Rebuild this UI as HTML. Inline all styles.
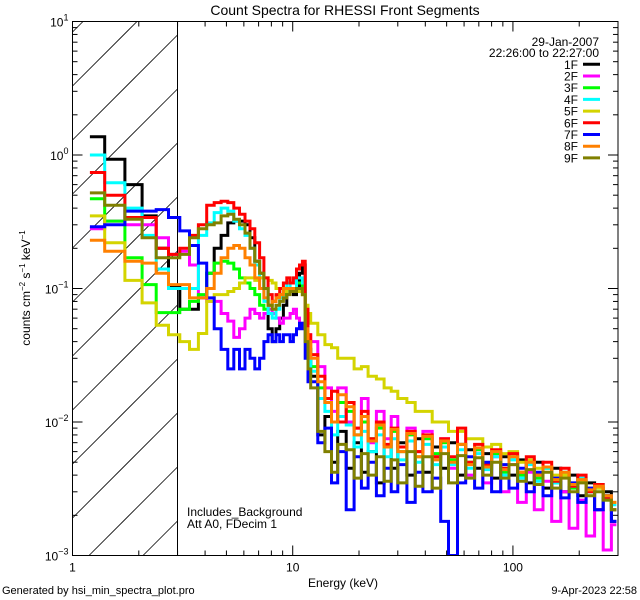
<!DOCTYPE html>
<html><head><meta charset="utf-8"><style>
html,body{margin:0;padding:0;background:#fff;width:640px;height:600px;overflow:hidden;}
svg{display:block;font-family:"Liberation Sans",sans-serif;}
</style></head><body>
<svg id="chart" width="640" height="600" viewBox="0 0 640 600" xmlns="http://www.w3.org/2000/svg">
<rect width="640" height="600" fill="#fff"/>
<text x="345" y="15" font-size="14" text-anchor="middle">Count Spectra for RHESSI Front Segments</text>
<defs><clipPath id="pclip"><rect x="72.5" y="21.5" width="545.5" height="534"/></clipPath></defs>
<g id="hatch"></g>
<line x1="177.5" y1="21.5" x2="177.5" y2="555.5" stroke="#000" stroke-width="1"/>
<g id="series" clip-path="url(#pclip)"></g>
<rect x="72.5" y="21.5" width="545.5" height="534" fill="none" stroke="#000" stroke-width="1"/>
<g id="axes"></g>
<text x="343" y="587" font-size="12" text-anchor="middle">Energy (keV)</text>
<text transform="translate(30,288) rotate(-90)" font-size="12" text-anchor="middle">counts cm<tspan font-size="8" dy="-5">−2</tspan><tspan dy="5"> s</tspan><tspan font-size="8" dy="-5">−1</tspan><tspan dy="5"> keV</tspan><tspan font-size="8" dy="-5">−1</tspan></text>
<text x="187" y="516" font-size="12">Includes_Background</text>
<text x="187" y="528" font-size="12">Att A0, FDecim 1</text>
<text x="599" y="46" font-size="12" text-anchor="end">29-Jan-2007</text>
<text x="599" y="57" font-size="12" text-anchor="end">22:26:00 to 22:27:00</text>
<g id="legend"></g>
<text x="2" y="594" font-size="11">Generated by hsi_min_spectra_plot.pro</text>
<text x="637" y="594" font-size="11" text-anchor="end">9-Apr-2023 22:58</text>
</svg>
<script>
const segmentNames=["1F","2F","3F","4F","5F","6F","7F","8F","9F"];
const segmentColors=["#000000","#ff00ff","#00ff00","#00ffff","#d4d400","#ff0000","#0000ff","#ff8000","#808000"];
const energyEdgesLow=[1.2,1.4,1.73,2.07,2.4,2.73,3.07,3.4,3.73,4.07,4.4,4.73,5.07,5.4,5.73,6.07,6.4,6.73,7.07,7.4,7.73,8.07,8.4,8.73,9.07,9.4,9.73,10.07,10.4,10.73,11.07,11.4,11.73,12.07];
const energyEdgesHigh=[13,14,15,16,17.5,19,20.5,22,24,26,28,30,33,36,39,43,47,51,56,61,67,73,80,88,96,105,115,125,137,150,165,180,197,215,235,257,280,295];
const lowF1=[1.37,0.93,0.6,0.35,0.2,0.105,0.07,0.07,0.085,0.13,0.2,0.25,0.31,0.32,0.32,0.3,0.24,0.16,0.13,0.1,0.05,0.04,0.05,0.06,0.075,0.1,0.1,0.09,0.1,0.13,0.15,0.06,0.035];
const lowF2=[0.28,0.32,0.3,0.3,0.24,0.18,0.19,0.15,0.085,0.08,0.08,0.065,0.057,0.043,0.05,0.06,0.07,0.065,0.06,0.065,0.07,0.065,0.06,0.055,0.06,0.06,0.065,0.07,0.06,0.055,0.055,0.05,0.045];
const lowF3=[0.47,0.32,0.17,0.107,0.066,0.066,0.07,0.08,0.09,0.13,0.155,0.16,0.155,0.14,0.12,0.11,0.1,0.09,0.075,0.07,0.075,0.08,0.085,0.09,0.09,0.1,0.1,0.1,0.11,0.11,0.1,0.05,0.035];
const lowF4=[1.0,0.62,0.4,0.25,0.14,0.1,0.1,0.1,0.25,0.31,0.37,0.4,0.38,0.32,0.28,0.25,0.2,0.15,0.12,0.08,0.065,0.06,0.07,0.085,0.1,0.11,0.1,0.1,0.12,0.12,0.11,0.05,0.035];
const lowF5=[0.35,0.22,0.115,0.078,0.053,0.045,0.04,0.035,0.046,0.08,0.09,0.09,0.095,0.1,0.11,0.12,0.12,0.115,0.12,0.12,0.115,0.11,0.1,0.1,0.095,0.1,0.1,0.1,0.1,0.095,0.09,0.075,0.065];
const lowF6=[0.74,0.5,0.34,0.34,0.2,0.18,0.2,0.25,0.3,0.42,0.44,0.45,0.44,0.4,0.36,0.32,0.28,0.22,0.17,0.12,0.09,0.08,0.09,0.1,0.11,0.12,0.11,0.12,0.14,0.15,0.16,0.07,0.045];
const lowF7=[0.29,0.3,0.38,0.38,0.39,0.34,0.27,0.21,0.155,0.085,0.05,0.035,0.025,0.035,0.025,0.035,0.03,0.025,0.03,0.04,0.045,0.04,0.045,0.04,0.045,0.045,0.04,0.045,0.05,0.055,0.05,0.03,0.02];
const lowF8=[0.23,0.19,0.16,0.155,0.13,0.107,0.107,0.085,0.085,0.1,0.13,0.17,0.2,0.21,0.2,0.17,0.15,0.12,0.1,0.085,0.075,0.08,0.085,0.09,0.1,0.1,0.1,0.1,0.1,0.1,0.09,0.05,0.04];
const lowF9=[0.52,0.42,0.33,0.24,0.17,0.17,0.18,0.24,0.28,0.3,0.31,0.35,0.36,0.33,0.3,0.26,0.2,0.16,0.13,0.1,0.075,0.07,0.075,0.08,0.085,0.09,0.095,0.095,0.1,0.1,0.09,0.04,0.025];
const highF1=[0.022,0.008,0.011,0.005,0.0085,0.0045,0.007,0.0042,0.006,0.0035,0.0065,0.0045,0.007,0.004,0.0075,0.0042,0.0065,0.0045,0.007,0.004,0.0062,0.0045,0.0058,0.0038,0.0055,0.004,0.0052,0.0035,0.005,0.0032,0.0045,0.003,0.004,0.0028,0.0035,0.0022,0.003,0.0018];
const highF2=[0.04,0.026,0.018,0.012,0.018,0.01,0.009,0.015,0.007,0.012,0.0075,0.011,0.0065,0.009,0.006,0.0085,0.0055,0.0075,0.0045,0.0068,0.004,0.0062,0.0035,0.0055,0.003,0.0048,0.0025,0.0042,0.0022,0.0036,0.0018,0.003,0.0016,0.0026,0.0014,0.0022,0.0011,0.0017];
const highF3=[0.026,0.018,0.014,0.01,0.014,0.012,0.008,0.01,0.0075,0.009,0.0065,0.0085,0.006,0.008,0.0055,0.0075,0.0058,0.007,0.0052,0.0068,0.005,0.0062,0.0045,0.0058,0.0042,0.0055,0.004,0.005,0.0038,0.0045,0.0035,0.004,0.0032,0.0036,0.003,0.0032,0.0026,0.0022];
const highF4=[0.024,0.015,0.012,0.008,0.011,0.0095,0.0065,0.0085,0.006,0.008,0.0055,0.0075,0.0052,0.0072,0.005,0.0068,0.0048,0.0065,0.0048,0.0062,0.0045,0.0058,0.0044,0.0055,0.004,0.0052,0.0038,0.0048,0.0036,0.0045,0.0035,0.0042,0.0033,0.0038,0.003,0.0034,0.0028,0.0024];
const highF5=[0.055,0.045,0.038,0.036,0.03,0.03,0.025,0.026,0.022,0.021,0.018,0.017,0.015,0.014,0.012,0.012,0.01,0.01,0.0085,0.0085,0.0075,0.0075,0.0065,0.0068,0.0058,0.006,0.005,0.0052,0.0045,0.0046,0.004,0.004,0.0035,0.0036,0.0032,0.0032,0.0028,0.0025];
const highF6=[0.032,0.022,0.015,0.017,0.01,0.014,0.009,0.012,0.0075,0.01,0.0068,0.009,0.0065,0.0085,0.006,0.008,0.0055,0.0075,0.0055,0.009,0.005,0.0068,0.0048,0.0062,0.0045,0.0058,0.0042,0.0055,0.004,0.005,0.0036,0.0045,0.0033,0.004,0.003,0.0034,0.0027,0.0022];
const highF7=[0.02,0.007,0.009,0.0035,0.006,0.0022,0.0055,0.0032,0.005,0.0028,0.0045,0.003,0.0048,0.0025,0.0042,0.003,0.0038,0.0018,0.001,0.0035,0.0055,0.0032,0.005,0.003,0.0048,0.0032,0.0045,0.003,0.0042,0.0028,0.0038,0.0027,0.0035,0.0025,0.0032,0.0022,0.0028,0.0018];
const highF8=[0.03,0.02,0.014,0.01,0.016,0.013,0.008,0.011,0.0072,0.0095,0.0065,0.0088,0.006,0.0082,0.0055,0.0078,0.0052,0.0072,0.005,0.0068,0.0048,0.0064,0.0046,0.006,0.0044,0.0055,0.0042,0.005,0.004,0.0046,0.0037,0.0042,0.0034,0.0037,0.0031,0.0033,0.0028,0.0025];
const highF9=[0.018,0.0085,0.006,0.0042,0.0068,0.0062,0.0038,0.0058,0.004,0.0055,0.0036,0.0052,0.0035,0.006,0.0033,0.0055,0.0032,0.0058,0.0035,0.0056,0.0038,0.0054,0.004,0.005,0.0038,0.0048,0.0036,0.0044,0.0034,0.0042,0.0032,0.0038,0.003,0.0035,0.0028,0.003,0.0026,0.0022];
const xMajorTicks=[1,10,100];
const xTickLabels=["1","10","100"];
const yMajorExps=[1,0,-1,-2,-3];

const NS="http://www.w3.org/2000/svg";
const X0=72.5,X1=618,Y0=21.5,Y1=555.5;
const xMin=0,xMax=Math.log10(300);
const yTop=1,yBot=-3;
function xs(e){return X0+(Math.log10(e)-xMin)/(xMax-xMin)*(X1-X0);}
function ys(v){return Y0+(yTop-Math.log10(v))/(yTop-yBot)*(Y1-Y0);}
function mk(tag,attrs,parent){const el=document.createElementNS(NS,tag);for(const k in attrs)el.setAttribute(k,attrs[k]);parent.appendChild(el);return el;}

// hatch: lines y = c - x, clipped manually to [X0,177.5]x[Y0,Y1]
const hatch=document.getElementById('hatch');
const HX1=177.5;
for(let k=-2;k<12;k++){
  const c=86+54*k+X0; // y at x is c - x
  let xa=Math.max(X0,c-Y1), xb=Math.min(HX1,c-Y0);
  if(xb<=xa) continue;
  const ln=mk('line',{x1:xa,y1:c-xa,x2:xb,y2:c-xb,stroke:'#000','stroke-width':0.8},hatch);
  
  
}

const edges=energyEdgesLow.concat(energyEdgesHigh);
const lows=[lowF1,lowF2,lowF3,lowF4,lowF5,lowF6,lowF7,lowF8,lowF9];
const highs=[highF1,highF2,highF3,highF4,highF5,highF6,highF7,highF8,highF9];
const sg=document.getElementById('series');
segmentNames.forEach((nm,i)=>{
  const vals=lows[i].concat(highs[i]);
  let d='';
  for(let b=0;b<vals.length;b++){
    const xa=xs(edges[b]).toFixed(1),xb=xs(edges[b+1]).toFixed(1),y=Math.min(Y1,ys(vals[b])).toFixed(1);
    d+=(b===0?'M':'L')+xa+','+y+'L'+xb+','+y;
  }
  const p=mk('path',{d:d,fill:'none',stroke:segmentColors[i],'stroke-width':3,'stroke-linejoin':'miter'},sg);
  
  
});

// axes ticks
const ax=document.getElementById('axes');
for(let d=0;d<=2;d++){
  for(let m=1;m<=9;m++){
    const e=m*Math.pow(10,d); if(e>300)break;
    const x=xs(e); const L=m===1?10:5;
    const t1=mk('line',{x1:x,y1:Y1,x2:x,y2:Y1-L,stroke:'#000'},ax);
    
    
    const t2=mk('line',{x1:x,y1:Y0,x2:x,y2:Y0+L,stroke:'#000'},ax);
    
    
  }
}
xMajorTicks.forEach((e,i)=>{
  const t=mk('text',{x:xs(e),y:Y1+16,'font-size':12,'text-anchor':'middle'},ax);
  t.textContent=xTickLabels[i];
  
  
});
for(let ex=-3;ex<=0;ex++){
  for(let m=1;m<=9;m++){
    const v=m*Math.pow(10,ex); const y=ys(v); const L=m===1?10:5;
    const a=mk('line',{x1:X0,y1:y,x2:X0+L,y2:y,stroke:'#000'},ax);
    
    
    const b=mk('line',{x1:X1,y1:y,x2:X1-L,y2:y,stroke:'#000'},ax);
    
    
  }
}
yMajorExps.forEach(ex=>{
  const y=ys(Math.pow(10,ex));
  const t=mk('text',{x:X0-4,y:y+5,'font-size':12,'text-anchor':'end'},ax);
  const s1=document.createElementNS(NS,'tspan');s1.textContent='10';t.appendChild(s1);
  const s2=document.createElementNS(NS,'tspan');s2.setAttribute('font-size','9');s2.setAttribute('dy','-6');s2.textContent=ex<0?'−'+(-ex):String(ex);t.appendChild(s2);
  
  
});

// legend
const lg=document.getElementById('legend');
segmentNames.forEach((nm,i)=>{
  const y=64.3+i*11.7;
  const g=mk('g',{},lg);
  
  
  const t=mk('text',{x:578,y:y+4.5,'font-size':12,'text-anchor':'end'},g);t.textContent=nm;
  mk('line',{x1:583,y1:y,x2:600,y2:y,stroke:segmentColors[i],'stroke-width':3},g);
});
</script>
</body></html>
